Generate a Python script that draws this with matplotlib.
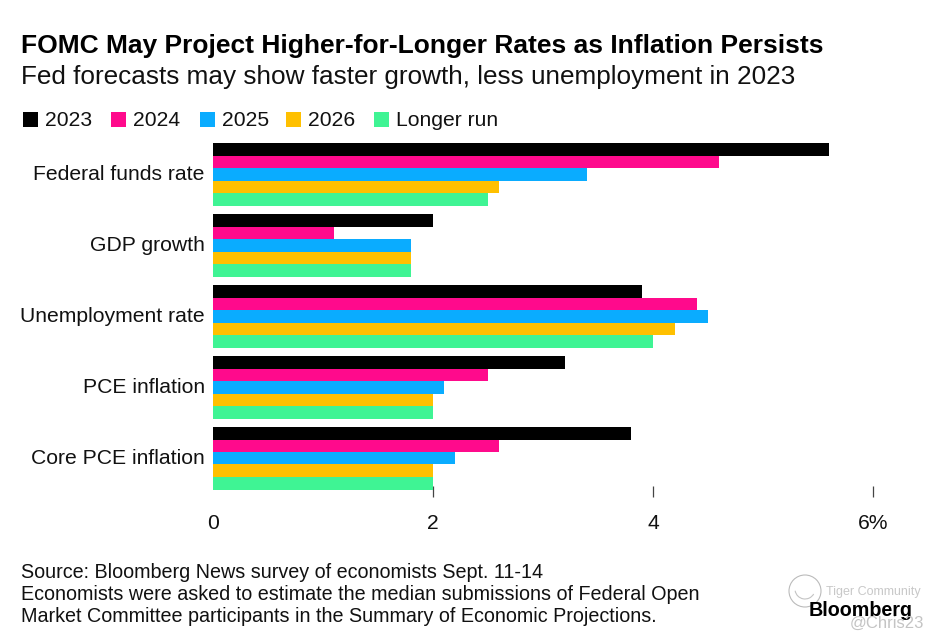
import matplotlib
matplotlib.use("Agg")
import matplotlib.pyplot as plt
from matplotlib.patches import Rectangle, Circle, Arc
from matplotlib.transforms import ScaledTranslation
import numpy as np

plt.rcParams['font.family'] = ['Liberation Sans', 'DejaVu Sans']

categories = ["Federal funds rate", "GDP growth", "Unemployment rate", "PCE inflation", "Core PCE inflation"]
series_names = ["2023", "2024", "2025", "2026", "Longer run"]
colors = ["#000000", "#FF0A8C", "#0AACFF", "#FFC000", "#3FF494"]
v_2023 = [5.6, 2.0, 3.9, 3.2, 3.8]
v_2024 = [4.6, 1.1, 4.4, 2.5, 2.6]
v_2025 = [3.4, 1.8, 4.5, 2.1, 2.2]
v_2026 = [2.6, 1.8, 4.2, 2.0, 2.0]
v_long = [2.5, 1.8, 4.0, 2.0, 2.0]
x_ticks = [0, 2, 4, 6]
x_labels = ["0", "2", "4", "6%"]

W, H = 940, 644
fig = plt.figure(figsize=(W / 100, H / 100), dpi=100, facecolor="white")


def px_text(x, y, s, **kw):
    # y is measured from the top of the picture
    return fig.text(x / W, 1 - y / H, s, color=kw.pop("color", "#111111"), **kw)


# axes: x 0..6 = 213..873 px, groups 71 px apart
top, bottom = 143.0, 497.0
ax = fig.add_axes([213 / W, 1 - bottom / H, 660 / W, (bottom - top) / H])
pitch = 71.0
bar_h = 12.5 / pitch
ax.set_xlim(0, 6)
ax.set_ylim((bottom - top) / pitch - 2.5 * bar_h, -2.5 * bar_h)

y = np.arange(len(categories))
all_series = [v_2023, v_2024, v_2025, v_2026, v_long]
for i, vals in enumerate(all_series):
    ax.barh(y + (i - 2) * bar_h, vals, height=bar_h, color=colors[i], linewidth=0, zorder=3)

for s in ax.spines.values():
    s.set_visible(False)
ax.set_facecolor("none")
ax.set_yticks(y)
ax.set_yticklabels(categories, fontsize=15.2, color="#111111")
ax.tick_params(axis="y", length=0, pad=6)
# labels sit 2 px above the group centre
up = ScaledTranslation(0, 2 / 100, fig.dpi_scale_trans)
for lab in ax.get_yticklabels():
    lab.set_transform(lab.get_transform() + up)
ax.set_xticks(x_ticks)
ax.set_xticklabels(x_labels, fontsize=15.2, color="#111111")
ax.tick_params(axis="x", direction="in", length=8, width=0.9, color="#444444", pad=12)
ax.xaxis.get_major_ticks()[0].tick1line.set_visible(False)
ax.get_xticklabels()[-1].set_ha("center")
ax.get_xticklabels()[-1].set_x(5.96)

px_text(21, 46, "FOMC May Project Higher-for-Longer Rates as Inflation Persists",
        fontsize=19, fontweight="bold", va="center", color="#000000")
px_text(21, 77, "Fed forecasts may show faster growth, less unemployment in 2023",
        fontsize=18.85, va="center")

legend_x = [23, 111, 200, 286, 374]
for name, c, lx in zip(series_names, colors, legend_x):
    fig.add_artist(Rectangle((lx / W, 1 - 127 / H), 15 / W, 15 / H, transform=fig.transFigure,
                             facecolor=c, edgecolor="none"))
    px_text(lx + 22, 120, name, fontsize=15.2, va="center")

foot = ["Source: Bloomberg News survey of economists Sept. 11-14",
        "Economists were asked to estimate the median submissions of Federal Open",
        "Market Committee participants in the Summary of Economic Projections."]
for line, fy in zip(foot, [572, 594, 617]):
    px_text(21, fy, line, fontsize=14.2, va="center")

# logo and watermark
px_text(809, 611, "Bloomberg", fontsize=14.2, fontweight="bold", va="center", color="#000000")
cx, cy = 8.05, (H - 591) / 100
fig.add_artist(Circle((cx, cy), 0.16, transform=fig.dpi_scale_trans,
                      facecolor="none", edgecolor="#BBBBBB", linewidth=0.8))
fig.add_artist(Arc((cx, cy + 0.02), 0.2, 0.2, theta1=190, theta2=330, transform=fig.dpi_scale_trans,
                   edgecolor="#C4C4C4", linewidth=0.8))
px_text(826, 592, "Tiger Community", fontsize=9, va="center", color="#C8C8C8")
px_text(850, 623, "@Chris23", fontsize=12, va="center", color="#C4C4C4")

fig.savefig("out.png", dpi=100)
